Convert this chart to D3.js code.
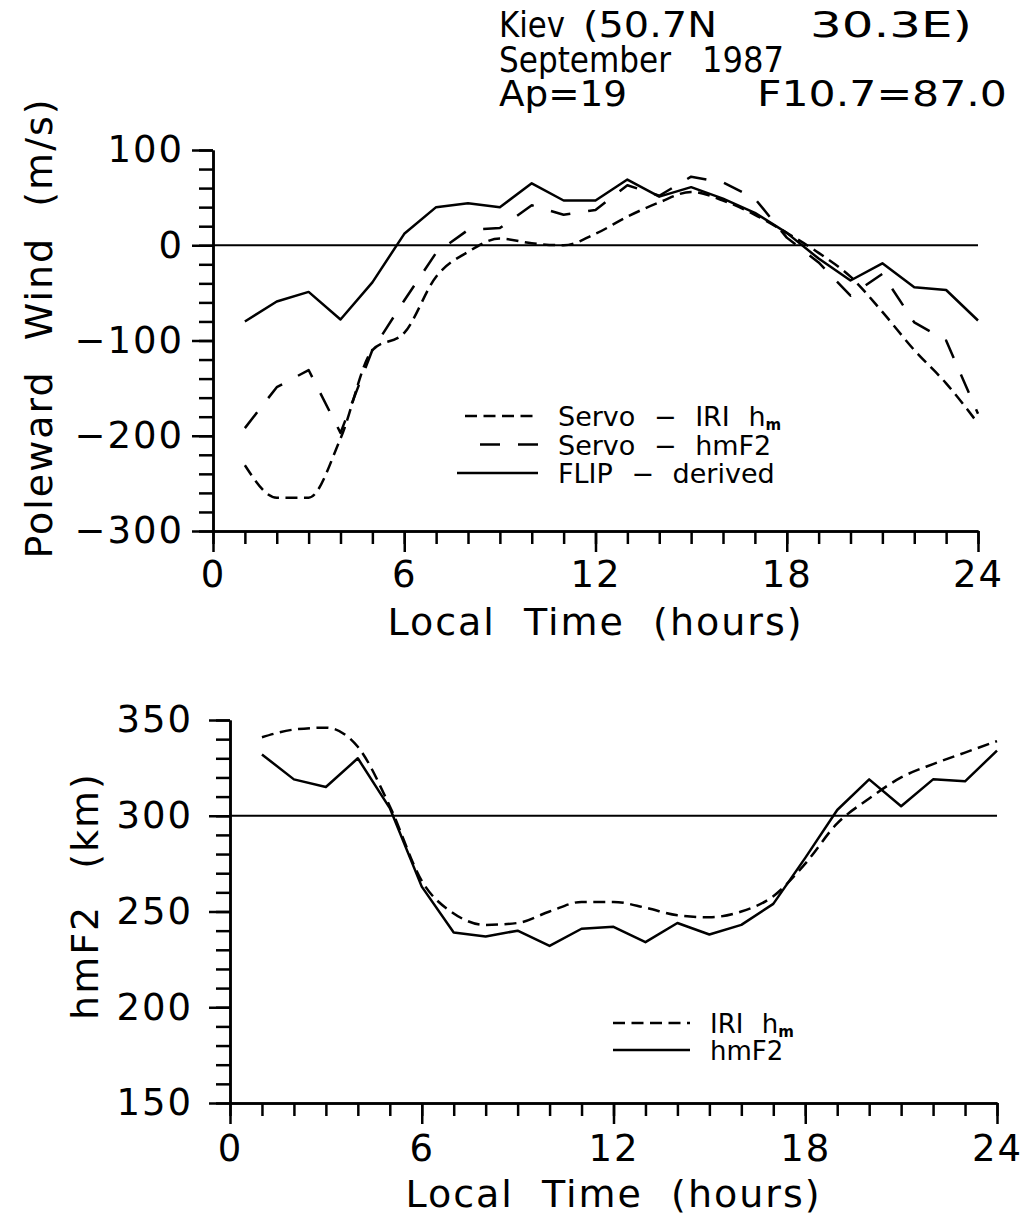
<html>
<head>
  <script src="https://d3js.org/d3.v7.min.js"></script>
  <style>
    body { margin: 0; background: #fff; }
    text { font-family: "DejaVu Sans", sans-serif; fill: #000; }
    .title { font-family: "DejaVu Sans", sans-serif; font-size: 35px; }
    .axis path, .axis line { stroke: #000; stroke-width: 2.5; }
    .curve { fill: none; stroke: #000; stroke-width: 2.5; stroke-linejoin: round; }
    .refline { stroke: #000; stroke-width: 2; }
  </style>
</head>
<body>
  <svg id="p" width="1030" height="1218"></svg>
  <script>
    // local time (hours)
    const hours = [1, 2, 3, 4, 5, 6, 7, 8, 9, 10, 11, 12, 13, 14, 15, 16, 17, 18, 19, 20, 21, 22, 23, 24];

    // top panel: poleward wind (m/s)
    const servoIri  = [-231, -265, -265, -203, -110, -92, -33, -7, 7, 2, 0, 12, 30, 45, 56, 47, 32, 13, -8, -33, -70, -110, -145, -187];
    const servoHmf2 = [-192, -149, -131, -197, -110, -58, -8, 16, 18, 42, 32, 37, 63, 52, 72, 66, 49, 8, -18, -53, -30, -81, -100, -177];
    const flipDerived = [-80, -59, -49, -78, -39, 12, 40, 44, 40, 65, 47, 47, 69, 51, 61, 49, 34, 13, -14, -37, -19, -44, -47, -79];

    // bottom panel: hmF2 (km)
    const iriHm = [341, 345, 346, 336, 305, 266, 249, 243, 244, 250, 255, 255, 252, 248, 247, 250, 258, 275, 296, 309, 320, 327, 333, 339];
    const hmF2  = [332, 319, 315, 330, 304, 263, 239, 237, 240, 232, 241, 242, 234, 244, 238, 243, 254, 278, 303, 319, 305, 319, 318, 334];

    // ticks
    const xMajorTicks = [0, 6, 12, 18, 24];
    const windMajorTicks = [100, 0, -100, -200, -300];
    const hmMajorTicks = [350, 300, 250, 200, 150];

    // header, one entry per word group: [text, x, width, line]
    const titleParts = [
      ["Kiev", 499, 66, 0], ["(50.7N", 583, 134, 0], ["30.3E)", 810, 162, 0],
      ["September", 499, 172, 1], ["1987", 702, 82, 1],
      ["Ap=19", 499, 128, 2], ["F10.7=87.0", 757, 250, 2]
    ];

    const svg = d3.select("svg#p");

    function drawPanel(cfg) {
      const x = d3.scaleLinear().domain([0, 24]).range([cfg.left, cfg.right]);
      const y = d3.scaleLinear().domain(cfg.yDomain).range([cfg.bottom, cfg.top]);
      const g = svg.append("g");

      // reference line
      g.append("line")
        .attr("class", "refline")
        .attr("x1", x(0)).attr("x2", x(24))
        .attr("y1", y(cfg.ref)).attr("y2", y(cfg.ref));

      // x axis: hourly minor ticks, major every 6 h
      g.append("g").attr("class", "axis")
        .attr("transform", "translate(0," + cfg.bottom + ")")
        .call(d3.axisBottom(x).tickValues(d3.range(0, 25, 1)).tickSize(13).tickSizeOuter(0).tickFormat(""));
      g.append("g").attr("class", "axis")
        .attr("transform", "translate(0," + cfg.bottom + ")")
        .call(d3.axisBottom(x).tickValues(xMajorTicks).tickSize(21).tickSizeOuter(0).tickPadding(cfg.xPad))
        .call(a => a.selectAll("text").attr("font-family", "DejaVu Sans").attr("font-size", 37).attr("letter-spacing", 2));

      // y axis
      g.append("g").attr("class", "axis")
        .attr("transform", "translate(" + cfg.left + ",0)")
        .call(d3.axisLeft(y).tickValues(d3.range(cfg.yDomain[0], cfg.yDomain[1] + 1, cfg.yMinor)).tickSize(14).tickSizeOuter(0).tickFormat(""));
      g.append("g").attr("class", "axis")
        .attr("transform", "translate(" + cfg.left + ",0)")
        .call(d3.axisLeft(y).tickValues(cfg.yMajor).tickSize(21).tickSizeOuter(0).tickPadding(cfg.yPad)
          .tickFormat(d => d < 0 ? "\u2212" + Math.abs(d) : d))
        .call(a => a.selectAll("text").attr("font-family", "DejaVu Sans").attr("font-size", 37).attr("letter-spacing", 2));

      // axis titles
      g.append("text")
        .text("Local Time (hours)")
        .attr("x", (cfg.left + cfg.right) / 2)
        .attr("y", cfg.bottom + cfg.xTitleOff)
        .attr("text-anchor", "middle")
        .style("font-size", "38px")
        .style("letter-spacing", "2px")
        .style("word-spacing", "14px");
      g.append("text")
        .text(cfg.yTitle)
        .attr("transform", "translate(" + cfg.yTitleX + "," + cfg.yTitleY + ") rotate(-90)")
        .attr("text-anchor", "middle")
        .style("font-size", "38px")
        .style("letter-spacing", "2px")
        .style("word-spacing", cfg.yTitleWs + "px");

      // curves
      cfg.series.forEach(s => {
        const line = d3.line()
          .x((d, i) => x(hours[i]))
          .y(d => y(d))
          .curve(s.smooth ? d3.curveMonotoneX : d3.curveLinear);
        g.append("path")
          .datum(s.values)
          .attr("class", "curve")
          .attr("d", line)
          .style("stroke-dasharray", s.dash);
      });

      // legend
      cfg.series.forEach((s, i) => {
        const ly = cfg.legendY + i * cfg.legendStep;
        g.append("line")
          .attr("class", "curve")
          .attr("x1", s.x1).attr("x2", cfg.legendX2)
          .attr("y1", ly).attr("y2", ly)
          .style("stroke-dasharray", s.dash);
        const t = g.append("text")
          .attr("x", cfg.legendX2 + 20)
          .attr("y", ly + 10)
          .style("font-size", cfg.legendFont + "px")
          .style("word-spacing", "10px");
        t.append("tspan").text(s.label);
        if (s.sub) {
          t.append("tspan").text(s.sub).attr("dy", 4).style("font-size", "15px").style("font-weight", "bold");
        }
      });
    }

    drawPanel({
      left: 213, right: 978, top: 150, bottom: 531,
      yDomain: [-300, 100], yMinor: 20, yMajor: windMajorTicks, ref: 0,
      xPad: 9, yPad: 8, xTitleOff: 104,
      yTitle: "Poleward Wind (m/s)", yTitleX: 52, yTitleY: 328, yTitleWs: 16,
      legendX2: 538, legendY: 416, legendStep: 28.5, legendFont: 27,
      series: [
        { values: servoIri, dash: "12,6.5", smooth: true, x1: 465, label: "Servo \u2212 IRI h", sub: "m" },
        { values: servoHmf2, dash: "20,18", smooth: false, x1: 480, label: "Servo \u2212 hmF2" },
        { values: flipDerived, dash: null, smooth: false, x1: 457, label: "FLIP \u2212 derived" }
      ]
    });

    drawPanel({
      left: 230, right: 997, top: 720, bottom: 1103,
      yDomain: [150, 350], yMinor: 10, yMajor: hmMajorTicks, ref: 300,
      xPad: 11, yPad: 16, xTitleOff: 104,
      yTitle: "hmF2 (km)", yTitleX: 98, yTitleY: 896, yTitleWs: 22,
      legendX2: 690, legendY: 1023, legendStep: 27, legendFont: 26,
      series: [
        { values: iriHm, dash: "12,6.5", smooth: true, x1: 613, label: "IRI h", sub: "m" },
        { values: hmF2, dash: null, smooth: false, x1: 613, label: "hmF2" }
      ]
    });

    // header text
    svg.append("g").selectAll("text")
      .data(titleParts)
      .join("text")
      .attr("class", "title")
      .attr("x", d => d[1])
      .attr("y", d => 37 + d[3] * 34.5)
      .attr("textLength", d => d[2])
      .attr("lengthAdjust", "spacingAndGlyphs")
      .text(d => d[0]);
  </script>
</body>
</html>
